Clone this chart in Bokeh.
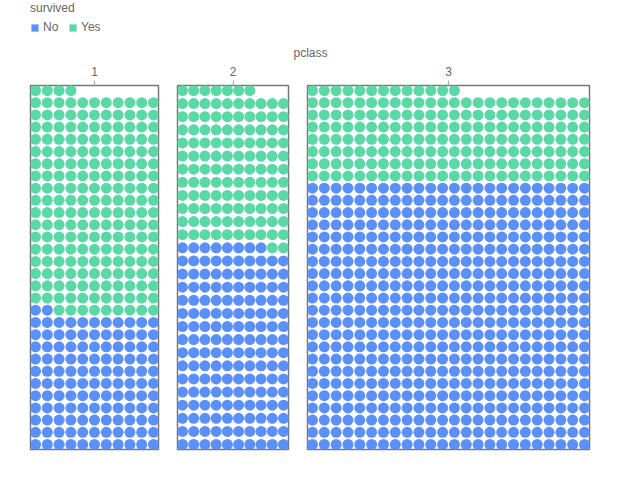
from bokeh.plotting import figure
from bokeh.models import (ColumnDataSource, Legend, LegendItem, Label, LinearAxis,
                          FixedTicker, Range1d, Spacer)
from bokeh.layouts import column, row
from bokeh.embed import file_html
from bokeh.resources import INLINE

# ---- data (Titanic, 1309 passengers) ----
pclass = ["1", "2", "3"]
died = [123, 158, 528]
survived = [200, 119, 181]
ncols = [11, 10, 24]
status_labels = ["No", "Yes"]
colors = ["#5B8FF9", "#5AD8A6"]

FONT = "Liberation Sans"
TXT = "#666666"

frame_widths = [128, 111, 282]
gaps = [25, 9, 9]
header_h = 60
panel_h = 420
top_border = 25
frame_h = 364
edge_pad = 5  # px between outer circles' centres and frame

panels = []
for cls, d, s, n, fw in zip(pclass, died, survived, ncols, frame_widths):
    total = d + s
    rows_n = (total + n - 1) // n
    xs, ys, cs = [], [], []
    for k in range(total):
        xs.append(k % n)
        ys.append(k // n)
        cs.append(colors[0] if k < d else colors[1])
    src = ColumnDataSource(dict(x=xs, y=ys, c=cs))
    px_x = (fw - 2 * edge_pad) / (n - 1)
    px_y = (frame_h - 2 * edge_pad) / (rows_n - 1)
    padx = edge_pad / px_x
    pady = edge_pad / px_y
    p = figure(width=fw + 10, height=panel_h, output_backend="svg",
               toolbar_location=None, x_axis_location=None, y_axis_location=None,
               x_range=Range1d(-padx, n - 1 + padx),
               y_range=Range1d(-pady, rows_n - 1 + pady),
               min_border_left=5, min_border_right=5, min_border_top=top_border,
               min_border_bottom=panel_h - top_border - frame_h)
    p.grid.visible = False
    p.outline_line_color = "#777777"
    p.outline_line_width = 1.5
    p.background_fill_color = "white"
    p.border_fill_color = "white"
    p.scatter("x", "y", source=src, size=11, marker="circle", fill_color="c",
              line_color=None)
    center = (n - 1) / 2
    ax = LinearAxis(ticker=FixedTicker(ticks=[center]),
                    major_label_overrides={center: cls})
    ax.axis_line_color = None
    ax.major_tick_line_color = "#aaaaaa"
    ax.major_tick_out = 5
    ax.major_tick_in = 0
    ax.minor_tick_line_color = None
    ax.major_label_standoff = 5
    ax.major_label_text_font = FONT
    ax.major_label_text_font_size = "12px"
    ax.major_label_text_color = TXT
    p.add_layout(ax, "above")
    panels.append(p)

# ---- header: legend + facet title ----
h = figure(width=640, height=header_h, output_backend="svg", toolbar_location=None,
           x_axis_location=None, y_axis_location=None,
           x_range=Range1d(0, 1), y_range=Range1d(0, 1),
           min_border=0)
h.grid.visible = False
h.outline_line_color = None
# zero-size swatches: only their legend keys are visible
key_src = ColumnDataSource(dict(x=[0], y=[0]))
r_no = h.rect(x="x", y="y", width=0, height=0, source=key_src,
              fill_color=colors[0], line_color=None)
r_yes = h.rect(x="x", y="y", width=0, height=0, source=key_src,
               fill_color=colors[1], line_color=None)
leg = Legend(items=[LegendItem(label=status_labels[0], renderers=[r_no]),
                    LegendItem(label=status_labels[1], renderers=[r_yes])],
             orientation="horizontal", location=(30, 26),
             title="survived", title_text_font=FONT, title_text_font_size="12px",
             title_text_font_style="normal", title_text_color=TXT, title_standoff=5,
             label_text_font=FONT, label_text_font_size="12px", label_text_color=TXT,
             glyph_width=9, glyph_height=9, label_height=14, label_standoff=4,
             spacing=5, padding=0, margin=0, border_line_color=None,
             background_fill_alpha=0)
h.add_layout(leg, "center")
h.add_layout(Label(x=310, y=8, x_units="screen", y_units="screen", text="pclass",
                   text_align="center", text_baseline="middle", text_font=FONT,
                   text_font_size="12px", text_color=TXT))

body = row(Spacer(width=gaps[0]), panels[0], Spacer(width=gaps[1]), panels[1],
           Spacer(width=gaps[2]), panels[2])
layout = column(h, body)

open("out.html", "w").write(file_html(layout, INLINE))
